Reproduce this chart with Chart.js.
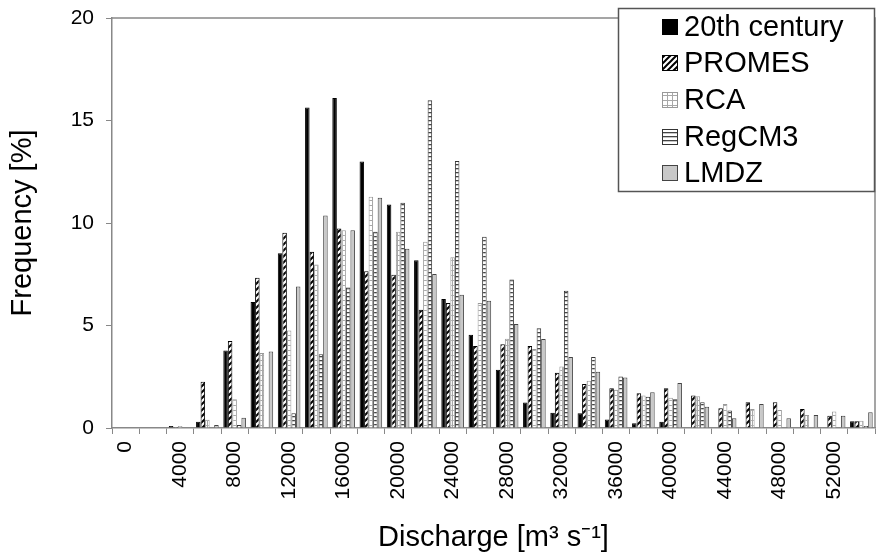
<!DOCTYPE html>
<html><head><meta charset="utf-8">
<script src="https://cdn.jsdelivr.net/npm/chart.js@4.4.0/dist/chart.umd.min.js"></script>
<style>html,body{margin:0;padding:0;background:#fff;} #wrap{width:876px;height:555px;position:relative;}</style>
</head><body><div id="wrap"><canvas id="c"></canvas></div>
<script>
const categories = ['0','2000','4000','6000','8000','10000','12000','14000','16000','18000','20000','22000','24000','26000','28000','30000','32000','34000','36000','38000','40000','42000','44000','46000','48000','50000','52000','54000'];
const tickLabels = ['0','','4000','','8000','','12000','','16000','','20000','','24000','','28000','','32000','','36000','','40000','','44000','','48000','','52000',''];
const seriesNames = ['20th century','PROMES','RCA','RegCM3','LMDZ'];
const century20 = [0,0,0.1,0.3,3.78,6.15,8.52,15.63,16.1,13.0,10.9,8.18,6.29,4.55,2.84,1.24,0.75,0.72,0.42,0.23,0.31,0,0,0,0,0,0,0.33];
const promes    = [0,0,0.05,2.26,4.25,7.33,9.53,8.6,9.73,7.65,7.48,5.77,6.1,4.0,4.09,4.0,2.7,2.15,1.94,1.7,1.94,1.58,0.96,1.26,1.26,0.93,0.6,0.33];
const rca       = [0,0,0.1,0.4,1.4,3.66,4.76,7.97,9.65,11.28,9.57,9.08,8.33,6.1,4.35,3.85,3.0,2.31,1.86,1.58,1.47,1.55,1.17,0.93,0.88,0.64,0.8,0.35];
const regcm3    = [0,0,0,0,0.15,0,0.72,3.6,6.85,9.57,10.99,15.99,13.02,9.33,7.24,4.87,6.7,3.46,2.51,1.53,1.4,1.26,0.85,0,0,0,0,0.1];
const lmdz      = [0,0,0,0.15,0.5,3.73,6.9,10.37,9.65,11.23,8.75,7.51,6.5,6.21,5.07,4.34,3.46,2.74,2.46,1.75,2.19,1.04,0.47,1.17,0.47,0.64,0.6,0.77];
const yTicks = [0,5,10,15,20];

const FONT = '"Liberation Sans", Arial, Helvetica, sans-serif';
const canvas = document.getElementById('c');
const ctx = canvas.getContext('2d');

function tile(w,h,draw){const t=document.createElement('canvas');t.width=w;t.height=h;const g=t.getContext('2d');g.fillStyle='#fff';g.fillRect(0,0,w,h);draw(g,w,h);return ctx.createPattern(t,'repeat');}
const diagPat = tile(6,6,(g)=>{g.strokeStyle='#000';g.lineWidth=2;g.beginPath();g.moveTo(-1,7);g.lineTo(7,-1);g.moveTo(-4,4);g.lineTo(4,-4);g.moveTo(2,10);g.lineTo(10,2);g.stroke();});
const gridPat = tile(5,5,(g)=>{g.fillStyle='#a8a8a8';g.fillRect(0,0,5,1);g.fillRect(2,0,1,5);});
const horizPat = tile(4,4,(g)=>{g.fillStyle='#444';g.fillRect(0,0,4,1.3);});

const styles = [
  {bg:'#000', bd:'#000'},
  {bg:diagPat, bd:'#000'},
  {bg:gridPat, bd:'#999'},
  {bg:horizPat, bd:'#333'},
  {bg:'#c8c8c8', bd:'#444'}
];
const values = [century20, promes, rca, regcm3, lmdz];

const frame = {
  id:'frame',
  afterDatasetsDraw(chart){
    const a=chart.chartArea, g=chart.ctx;
    g.save();g.strokeStyle='#888';g.lineWidth=1.5;
    g.beginPath();g.moveTo(a.left,a.top);g.lineTo(a.right,a.top);g.lineTo(a.right,a.bottom);g.stroke();
    g.restore();
  }
};
const legendBox = {
  id:'legendBox',
  afterDraw(chart){
    const g=chart.ctx;
    g.save();
    g.fillStyle='#fff';g.fillRect(618,8,257,184);
    g.strokeStyle='#555';g.lineWidth=1.5;g.strokeRect(618.5,8.5,256,183);
    const rows=[27,63,100,137,173];
    g.font='29px '+FONT;g.textBaseline='middle';g.textAlign='left';
    for(let i=0;i<5;i++){
      const y=rows[i];
      g.fillStyle=styles[i].bg;g.fillRect(662,y-8,16,16);
      g.strokeStyle=styles[i].bd;g.lineWidth=1;g.strokeRect(662.5,y-7.5,15,15);
      g.fillStyle='#000';g.fillText(seriesNames[i],684,y+1);
    }
    g.restore();
  }
};

new Chart(canvas,{
  type:'bar',
  data:{
    labels:categories,
    datasets:values.map((v,i)=>({label:seriesNames[i],data:v,backgroundColor:styles[i].bg,borderColor:styles[i].bd,borderWidth:1,categoryPercentage:0.83,barPercentage:1.0}))
  },
  options:{
    responsive:true,maintainAspectRatio:false,animation:false,
    layout:{padding:{top:18,right:1,left:0,bottom:0}},
    plugins:{legend:{display:false},tooltip:{enabled:false}},
    scales:{
      x:{
        grid:{display:true,drawOnChartArea:false,drawTicks:true,tickLength:6,color:'#888',lineWidth:1,offset:true},
        border:{display:true,color:'#888',width:1.5},
        ticks:{autoSkip:false,maxRotation:90,minRotation:90,padding:7,color:'#000',font:{size:21,family:FONT},callback:(v,i)=>tickLabels[i]},
        title:{display:true,text:'Discharge [m³ s⁻¹]',color:'#000',font:{size:29,family:FONT},padding:{top:0,bottom:0}},
        afterFit:(s)=>{s.height=127;s.paddingLeft=0;s.paddingRight=0;}
      },
      y:{
        min:0,max:20,
        afterBuildTicks:(s)=>{s.ticks=yTicks.map(v=>({value:v}));},
        grid:{display:true,drawOnChartArea:false,drawTicks:true,tickLength:6,color:'#888',lineWidth:1},
        border:{display:true,color:'#888',width:1.5},
        ticks:{padding:12,color:'#000',font:{size:21,family:FONT}},
        title:{display:true,text:'Frequency [%]',color:'#000',font:{size:29,family:FONT},padding:{top:6,bottom:0}},
        afterFit:(s)=>{s.width=112;s.paddingTop=0;s.paddingBottom=0;}
      }
    }
  },
  plugins:[frame,legendBox]
});
</script></body></html>
